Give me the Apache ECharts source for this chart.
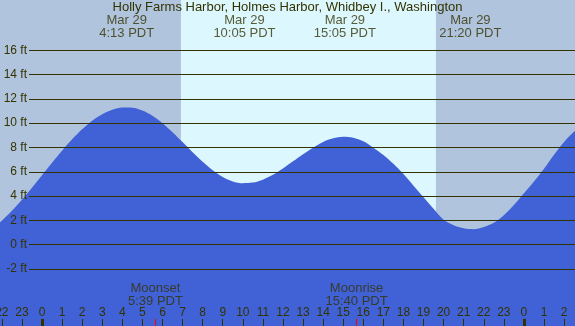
<!DOCTYPE html>
<html><head><meta charset="utf-8">
<script src="https://cdn.jsdelivr.net/npm/echarts@6/dist/echarts.min.js"></script>
<style>html,body{margin:0;padding:0;background:#b0c4de}#c{width:575px;height:326px}</style>
</head><body><div id="c"></div>
<script>
const title = 'Holly Farms Harbor, Holmes Harbor, Whidbey I., Washington';
// tide curve (hours from Mar 29 00:00, feet)
const hours = [-2.5,-2,-1.5,-1,-0.5,0,0.5,1,1.5,2,2.5,3,3.5,4,4.5,5,5.5,6,6.5,7,7.5,8,8.5,9,9.5,10,
  10.5,11,11.5,12,12.5,13,13.5,14,14.5,15,15.5,16,16.5,17,17.5,18,18.5,19,19.5,20,20.5,21,21.5,22,22.5,23,23.5,24,24.5,25,25.5,26,26.5,27];
const heights = [1.31,1.97,2.78,3.69,4.68,5.71,6.74,7.73,8.66,9.49,10.19,10.73,11.10,11.28,11.27,11.03,10.60,9.99,9.25,8.44,7.60,6.81,6.12,5.57,5.20,5.05,
  5.10,5.34,5.74,6.26,6.85,7.44,7.98,8.45,8.75,8.88,8.80,8.50,7.98,7.38,6.65,5.80,4.85,3.90,2.95,2.05,1.60,1.34,1.27,1.45,1.80,2.42,3.25,4.22,5.20,6.25,7.40,8.45,9.30,10.10];
// tide events
const tideDate  = 'Mar 29';
const tideTimes = [4.217, 10.083, 15.083, 21.333];
const tideLabels = ['4:13 PDT', '10:05 PDT', '15:05 PDT', '21:20 PDT'];
// moon events
const moonTimes  = [5.65, 15.667];
const moonNames  = ['Moonset', 'Moonrise'];
const moonLabels = ['5:39 PDT', '15:40 PDT'];
// sun
const sunrise = 6.92, sunset = 19.62;
const midnights = [0, 24];
// axis ranges
const xMin = -2.0916, xMax = 26.544;
const tickMin = -2, tickMax = 26;
const yMin = -6.70, yMax = 20.13;
const gridMin = -2, gridMax = 16, gridStep = 2;
const topLabelFt = 17.92, moonLabelFt = -4.14, tickTopFt = -6.12;

const ink = '#333300';
const font = 'Liberation Sans, Arial, sans-serif';
const chart = echarts.init(document.getElementById('c'), null, {renderer:'canvas'});

const series = [
  { type:'line', xAxisIndex:0, yAxisIndex:0, data:[], z:1, silent:true,
    markArea:{ silent:true, data:[
      [{xAxis:xMin, itemStyle:{color:'#b0c4de'}},{xAxis:sunrise}],
      [{xAxis:sunrise, itemStyle:{color:'#ddf7ff'}},{xAxis:sunset}],
      [{xAxis:sunset, itemStyle:{color:'#b0c4de'}},{xAxis:xMax}]
    ]}},
  { type:'line', xAxisIndex:0, yAxisIndex:0, z:2, silent:true,
    data: hours.map((h,i)=>[h, heights[i]]), smooth:0.3, symbol:'none',
    lineStyle:{width:0, color:'#4161d6'}, areaStyle:{color:'#4161d6', origin:'start', opacity:1} },
  { type:'scatter', xAxisIndex:0, yAxisIndex:0, z:5, silent:true, symbolSize:1,
    itemStyle:{color:'rgba(0,0,0,0)'},
    data: tideTimes.map((t,i)=>[t, topLabelFt, tideDate + '\n' + tideLabels[i]])
      .concat(moonTimes.map((t,i)=>[t, moonLabelFt, moonNames[i] + '\n' + moonLabels[i]])),
    label:{show:true, position:'inside', formatter:p=>p.data[2], color:ink, fontSize:13,
      fontFamily:font, lineHeight:12.5, align:'center', verticalAlign:'middle'} },
  { type:'line', xAxisIndex:0, yAxisIndex:0, data:[], z:6, silent:true,
    markLine:{ silent:true, symbol:'none', label:{show:false}, animation:false,
      data: midnights.map(t=>[{coord:[t, yMin], lineStyle:{color:ink, width:3, type:'solid'}},{coord:[t, tickTopFt]}])
        .concat(moonTimes.map(t=>[{coord:[t, yMin], lineStyle:{color:'#ff0000', width:1, type:'solid'}},{coord:[t, tickTopFt]}])) } },
  { type:'line', xAxisIndex:1, yAxisIndex:1, data:[], silent:true },
  { type:'line', xAxisIndex:2, yAxisIndex:2, data:[], silent:true }
];

chart.setOption({
  animation:false,
  title:{ text:title, left:'center', top:1, padding:0, textStyle:{fontSize:13, fontWeight:'normal', color:ink, fontFamily:font} },
  grid:[
    {left:0, right:0, top:0, bottom:0, outerBoundsMode:'none', containLabel:false},
    {left:29, right:0, top:50.2, bottom:57, outerBoundsMode:'none', containLabel:false},
    {left:1.84, right:10.9, top:0, bottom:0, outerBoundsMode:'none', containLabel:false}
  ],
  xAxis:[
    { type:'value', gridIndex:0, min:xMin, max:xMax, show:false },
    { type:'value', gridIndex:1, min:0, max:1, show:false },
    { type:'value', gridIndex:2, min:tickMin, max:tickMax, interval:1, z:8,
      axisLine:{show:false}, splitLine:{show:false},
      axisTick:{show:true, inside:true, length:7, lineStyle:{color:ink, width:1}},
      axisLabel:{inside:true, margin:7.5, interval:0, color:ink, fontSize:12, fontFamily:font,
        formatter:v=>String(((v%24)+24)%24)} }
  ],
  yAxis:[
    { type:'value', gridIndex:0, min:yMin, max:yMax, show:false },
    { type:'value', gridIndex:1, min:gridMin, max:gridMax, interval:gridStep, z:10,
      axisLine:{show:false}, axisTick:{show:false},
      splitLine:{show:true, lineStyle:{color:ink, width:1}},
      axisLabel:{margin:2, color:ink, fontSize:12, fontFamily:font, formatter:v=>v+' ft'} },
    { type:'value', gridIndex:2, min:0, max:1, show:false }
  ],
  series
});
</script></body></html>
